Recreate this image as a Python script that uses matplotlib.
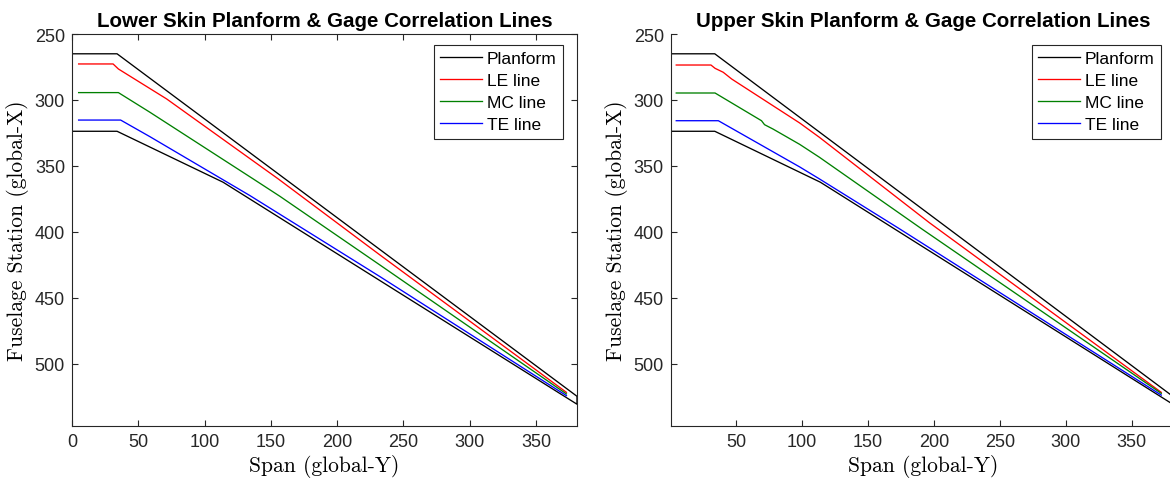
import matplotlib
matplotlib.use("Agg")
import matplotlib.pyplot as plt

# ---------------- data ----------------
# Planform outline (span Y, station X)
planform_y = [0, 34, 381, 381, 114, 34, 0]
planform_x = [265, 265, 524.5, 530.5, 362.3, 323.7, 323.7]

# Lower skin correlation lines
lower_le_y = [5, 31, 35, 71.4, 155.6, 232.3, 373]
lower_le_x = [272.7, 272.7, 276.5, 299.2, 359.8, 417.4, 521.5]
lower_mc_y = [5, 35, 58.8, 136.7, 156.9, 232.3, 373]
lower_mc_x = [294.4, 294.4, 309.3, 359.8, 373.0, 425.0, 522.7]
lower_te_y = [5, 36.7, 58.8, 134.2, 232.3, 373]
lower_te_x = [315.2, 315.2, 327.8, 372.4, 433.8, 524.0]

# Upper skin correlation lines
upper_le_y = [4.8, 31.1, 34.2, 40.4, 46.8, 98.3, 113.3, 196.5, 372.3]
upper_le_x = [273.5, 273.5, 276.0, 279.0, 284.1, 317.4, 328.3, 392.9, 521.5]
upper_mc_y = [4.8, 34.2, 69.4, 71.7, 78.1, 98.3, 113.3, 191.3, 372.3]
upper_mc_x = [294.7, 294.7, 315.7, 318.7, 322.0, 333.6, 343.4, 398.0, 522.3]
upper_te_y = [4.8, 36.7, 98.3, 113.3, 174.6, 372.3]
upper_te_x = [315.7, 315.7, 350.7, 359.8, 398.0, 523.6]

titles = ["Lower Skin Planform & Gage Correlation Lines",
          "Upper Skin Planform & Gage Correlation Lines"]
legend_labels = ["Planform", "LE line", "MC line", "TE line"]
x_ticks = [0, 50, 100, 150, 200, 250, 300, 350]
y_ticks = [250, 300, 350, 400, 450, 500]

# ---------------- figure ----------------
W, H = 1170, 485
fig = plt.figure(figsize=(W / 100, H / 100), dpi=100)
sans = "Liberation Sans"
serif = "cmr10"
axcol = (0.15, 0.15, 0.15)

def px_axes(l, r, t, b):
    return fig.add_axes([l / W, 1 - b / H, (r - l) / W, (b - t) / H])

ax1 = px_axes(72, 577, 35, 427)
ax2 = px_axes(670.7, 1175, 35, 427)

sets = [
    (ax1, lower_le_y, lower_le_x, lower_mc_y, lower_mc_x, lower_te_y, lower_te_x, (0, 381), True),
    (ax2, upper_le_y, upper_le_x, upper_mc_y, upper_mc_x, upper_te_y, upper_te_x, (0.6, 382.7), False),
]

for i, (ax, ley, lex, mcy, mcx, tey, tex, xl, box) in enumerate(sets):
    lw = 0.95
    ax.plot(planform_y, planform_x, color="black", lw=lw, label=legend_labels[0])
    ax.plot(ley, lex, color=(1, 0, 0), lw=lw, label=legend_labels[1])
    ax.plot(mcy, mcx, color=(0, 0.5, 0), lw=lw, label=legend_labels[2])
    ax.plot(tey, tex, color=(0, 0, 1), lw=lw, label=legend_labels[3])
    ax.set_xlim(*xl)
    ax.set_ylim(547, 250)
    ax.set_xticks([t for t in x_ticks if t >= xl[0]])
    ax.set_yticks(y_ticks)
    ax.tick_params(direction="in", length=4, width=0.8, colors=axcol,
                   labelsize=13, labelcolor=(0.15, 0.15, 0.15),
                   top=box, right=box, pad=5)
    for lab in ax.get_xticklabels() + ax.get_yticklabels():
        lab.set_fontfamily(sans)
    for s in ax.spines.values():
        s.set_color(axcol)
        s.set_linewidth(0.8)
    if not box:
        ax.spines["top"].set_visible(False)
        ax.spines["right"].set_visible(False)
    ax.set_title(titles[i], fontfamily=sans, fontweight="bold", fontsize=14.8,
                 pad=6, color="black")
    ax.set_xlabel("Span (global-Y)", fontfamily=serif, fontsize=15.5, labelpad=3)
    ax.set_ylabel("Fuselage Station (global-X)", fontfamily=serif, fontsize=15.5, labelpad=4)
    leg = ax.legend(loc="upper right", bbox_to_anchor=(0.972, 0.972), borderaxespad=0,
                    fancybox=False, edgecolor=axcol, framealpha=1,
                    prop={"family": sans, "size": 12.5}, handlelength=2.4,
                    handletextpad=0.3, labelspacing=0.4, borderpad=0.35)
    leg.get_frame().set_linewidth(0.8)

fig.savefig("out.png", dpi=100)
